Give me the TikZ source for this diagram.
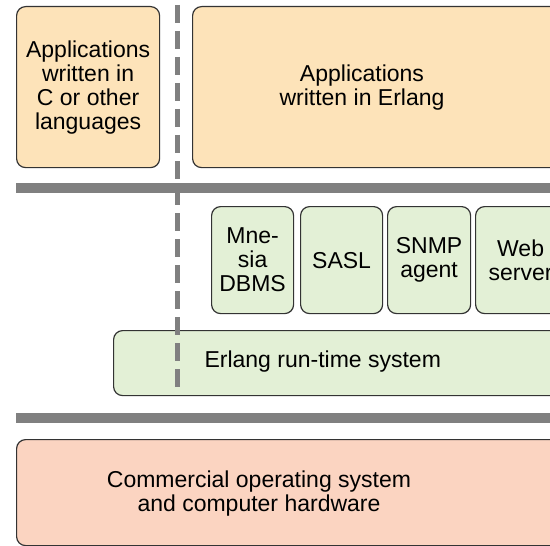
\documentclass[tikz,border=0pt]{standalone}
\usepackage{fontspec}
\setmainfont{Liberation Sans}
\usepackage{tikz}

\definecolor{appfill}{RGB}{253,227,185}
\definecolor{libfill}{RGB}{227,240,214}
\definecolor{osfill}{RGB}{251,212,193}
\definecolor{bargray}{RGB}{128,128,128}

\begin{document}
\begin{tikzpicture}[x=1bp,y=-1bp,
	font=\fontsize{23bp}{24bp}\selectfont,
	layerbox/.style={draw=black!80,line width=1.2bp,rounded corners=9bp,inner sep=0pt,anchor=north west,align=center},
	appbox/.style={layerbox,fill=appfill},
	libbox/.style={layerbox,fill=libfill},
	osbox/.style={layerbox,fill=osfill},
	bar/.style={draw=bargray,line width=10bp},
	divider/.style={draw=bargray,line width=5bp,dash pattern=on 18bp off 8bp}]
	\useasboundingbox (0,0) rectangle (550,546);
	\clip (0,0) rectangle (550,546);
	
	% applications
	\node (capps) [appbox,minimum width=143bp,minimum height=161bp] at (16,6) {Applications\\written in\\C or other\\languages};
	\node (erlapps) [appbox,minimum width=380bp,minimum height=161bp] at (192,6) {};
	\node (erlappstext) [align=center] at (362,88) {Applications\\written in Erlang};
	
	\draw [bar] (16,188.5) -- (560,188.5);
	
	% libraries
	\foreach \x/\w/\name/\txt in {211/82/mnesia/{Mne-\\sia\\DBMS},300/82/sasl/{SASL},387/83/snmp/{SNMP\\agent},475/90/web/{Web\\server}}{
		\node (\name) [libbox,minimum width=\w bp,minimum height=107bp] at (\x,206) {\txt};
	}
	
	\node (runtime) [libbox,minimum width=460bp,minimum height=65bp] at (113,330) {};
	\node (runtimetext) [anchor=west] at (201,362) {Erlang run-time system};
	
	\draw [bar] (16,417.5) -- (560,417.5);
	
	% operating system
	\node (os) [osbox,minimum width=560bp,minimum height=106bp] at (16,439) {};
	\node (ostext) [align=center] at (259,494) {Commercial operating system\\and computer hardware};
	
	\draw [divider] (177,5) -- (177,394);
	
\end{tikzpicture}
\end{document}
